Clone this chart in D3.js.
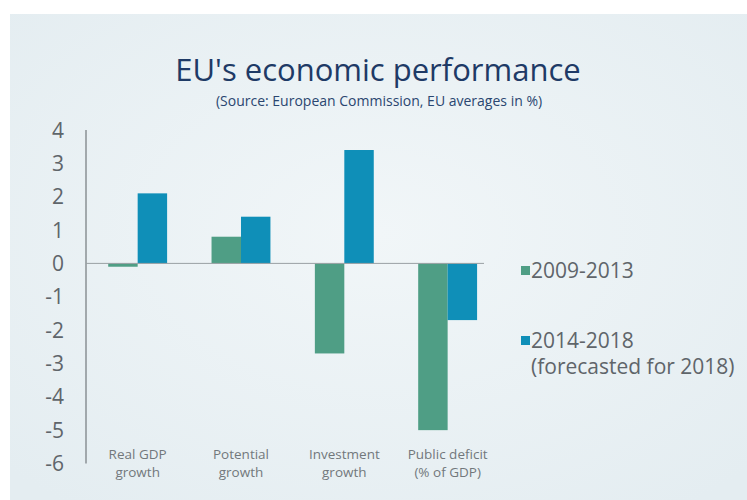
<!DOCTYPE html>
<html>
<head>
<meta charset="utf-8">
<script src="https://cdn.jsdelivr.net/npm/d3@7"></script>
<style>
  body { margin: 0; background: #fff; }
  svg { display: block; }
</style>
</head>
<body>
<script>
var categories = [["Real GDP", "growth"], ["Potential", "growth"], ["Investment", "growth"], ["Public deficit", "(% of GDP)"]];
var series = ["2009-2013", "2014-2018"];
var values0913 = [-0.1, 0.8, -2.7, -5.0];
var values1418 = [2.1, 1.4, 3.4, -1.7];
var yTicks = [4, 3, 2, 1, 0, -1, -2, -3, -4, -5, -6];
var colors = ["#4f9e85", "#0f8fb8"];

var width = 747, height = 500;

var svg = d3.select("body").append("svg")
	.attr("width", width)
	.attr("height", height);

var defs = svg.append("defs");
var grad = defs.append("radialGradient")
	.attr("id", "bg")
	.attr("cx", "50%").attr("cy", "45%").attr("r", "70%");
grad.append("stop").attr("offset", "0%").attr("stop-color", "#f1f6f8");
grad.append("stop").attr("offset", "100%").attr("stop-color", "#e4edf1");

svg.append("rect")
	.attr("x", 10).attr("y", 14)
	.attr("width", width - 10).attr("height", height - 14)
	.attr("fill", "url(#bg)");

// title
svg.append("text")
	.attr("x", 378).attr("y", 81)
	.attr("text-anchor", "middle")
	.attr("font-family", "Open Sans")
	.attr("font-size", 31)
	.attr("fill", "#1e3a66")
	.text("EU's economic performance");

svg.append("text")
	.attr("x", 379).attr("y", 106)
	.attr("text-anchor", "middle")
	.attr("font-family", "Open Sans")
	.attr("font-size", 14)
	.attr("fill", "#2a4670")
	.text("(Source: European Commission, EU averages in %)");

var x = d3.scaleBand()
	.domain(d3.range(categories.length))
	.range([86, 499.3])
	.paddingInner(0.43)
	.paddingOuter(0.215);

var x1 = d3.scaleBand()
	.domain(series)
	.range([0, x.bandwidth()]);

var y = d3.scaleLinear()
	.domain([-6, 4])
	.range([463.5, 130]);

// y axis line + labels
svg.append("line")
	.attr("x1", 86).attr("x2", 86)
	.attr("y1", y(4)).attr("y2", y(-6))
	.attr("stroke", "#8a9094")
	.attr("stroke-width", 1.5);

svg.selectAll("text.ytick")
	.data(yTicks)
	.enter()
	.append("text")
	.attr("class", "ytick")
	.attr("x", 64)
	.attr("y", function(d) { return y(d); })
	.attr("dy", "0.36em")
	.attr("text-anchor", "end")
	.attr("font-family", "Open Sans")
	.attr("font-size", 21)
	.attr("fill", "#5f656a")
	.text(function(d) { return d; });

// bars
var rows = categories.map(function(c, i) {
	return {i: i, vals: [values0913[i], values1418[i]]};
});

var groups = svg.selectAll("g.cat")
	.data(rows)
	.enter()
	.append("g")
	.attr("class", "cat")
	.attr("transform", function(d) { return "translate(" + x(d.i) + ",0)"; });

groups.selectAll("rect")
	.data(function(d) { return d.vals.map(function(v, j) { return {s: series[j], v: v, j: j}; }); })
	.enter()
	.append("rect")
	.attr("x", function(d) { return x1(d.s); })
	.attr("width", x1.bandwidth())
	.attr("y", function(d) { return y(Math.max(0, d.v)); })
	.attr("height", function(d) { return Math.abs(y(d.v) - y(0)); })
	.attr("fill", function(d) { return colors[d.j]; });

// zero line
svg.append("line")
	.attr("x1", 86).attr("x2", 484)
	.attr("y1", y(0)).attr("y2", y(0))
	.attr("stroke", "#9aa0a4")
	.attr("stroke-width", 1);

// category labels
groups.selectAll("text")
	.data(function(d) { return categories[d.i]; })
	.enter()
	.append("text")
	.attr("x", x.bandwidth() / 2)
	.attr("y", function(d, k) { return 459 + k * 18; })
	.attr("text-anchor", "middle")
	.attr("font-family", "Open Sans")
	.attr("font-size", 13.5)
	.attr("fill", "#72787c")
	.attr("fill", "#72787c")
	.text(function(d) { return d; });

// legend
var legendItems = [
	{lines: ["2009-2013"], y: 270},
	{lines: ["2014-2018", "(forecasted for 2018)"], y: 340}
];

var legend = svg.selectAll("g.legend")
	.data(legendItems)
	.enter()
	.append("g")
	.attr("class", "legend")
	.attr("transform", function(d) { return "translate(521," + d.y + ")"; });

legend.append("rect")
	.attr("x", 0).attr("y", -4)
	.attr("width", 9).attr("height", 9)
	.attr("fill", function(d, i) { return colors[i]; });

legend.selectAll("text")
	.data(function(d) { return d.lines; })
	.enter()
	.append("text")
	.attr("x", 10)
	.attr("y", function(d, k) { return k * 26; })
	.attr("dy", "0.36em")
	.attr("font-family", "Open Sans")
	.attr("font-size", 21)
	.attr("fill", "#5f656a")
	.text(function(d) { return d; });
</script>
</body>
</html>
